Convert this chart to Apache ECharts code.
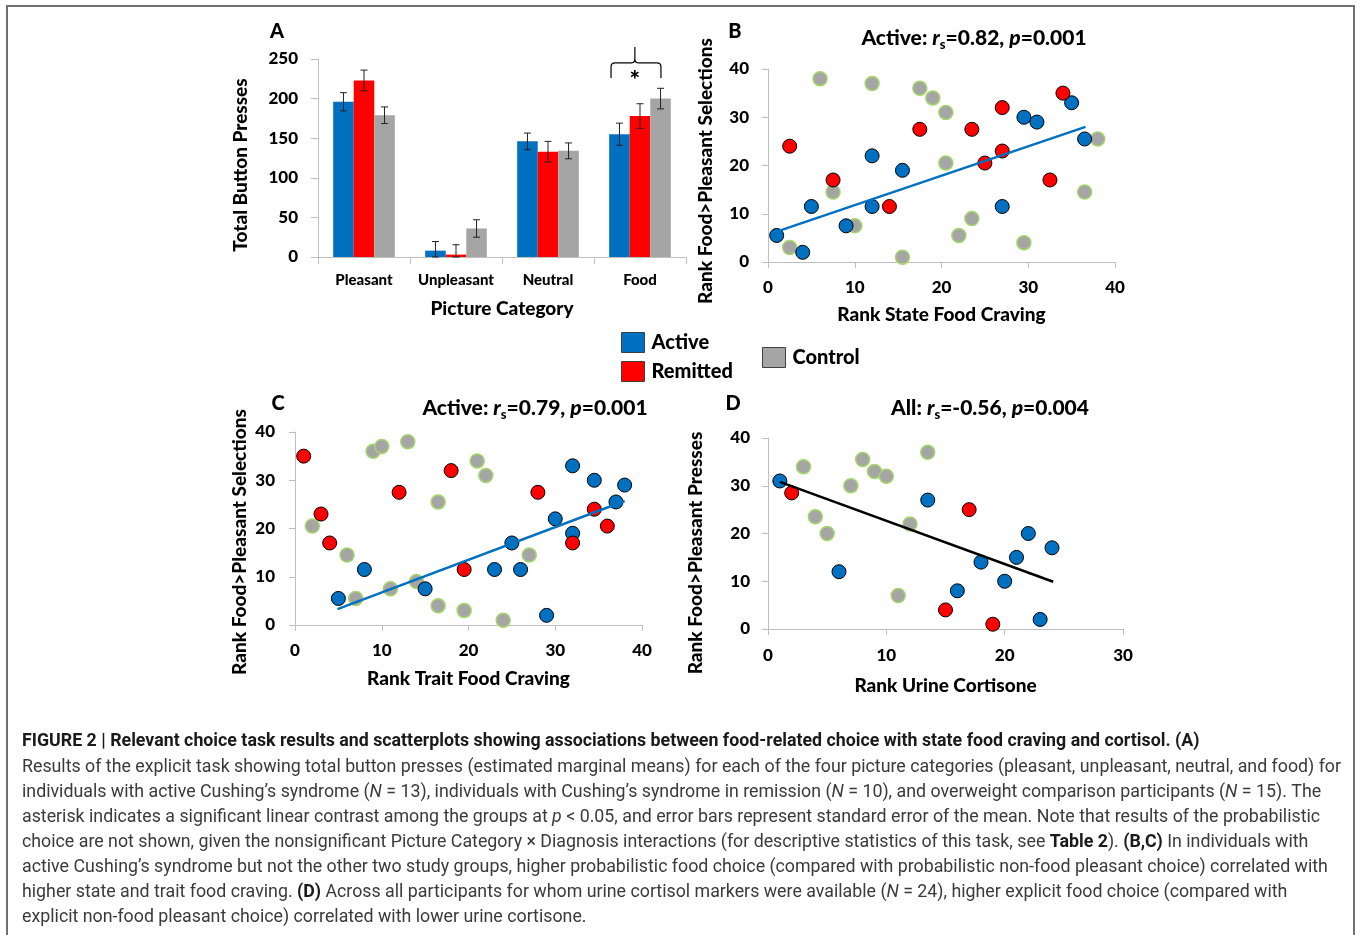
<!DOCTYPE html>
<html>
<head>
<meta charset="utf-8">
<script src="https://cdn.jsdelivr.net/npm/echarts@6/dist/echarts.min.js"></script>
<style>
html, body { margin: 0; padding: 0; background: #fff; }
#main { width: 1357px; height: 935px; }
</style>
</head>
<body>
<div id="main"></div>
<script>
// panel A: total button presses (means and SE)
var categories = ['Pleasant', 'Unpleasant', 'Neutral', 'Food'];
var activeMeans = [196, 8, 146, 155];
var remittedMeans = [223, 3, 133, 178];
var controlMeans = [179, 36, 134, 200];
var activeSE = [11.5, 11.5, 10.5, 14];
var remittedSE = [13, 12.5, 13, 15.5];
var controlSE = [10.5, 11, 10, 13];
// bracket over Food: category, bottom, top, peak, asterisk
var foodBracket = [3, 226, 245, 265, 222];

// panel B: rank state food craving vs rank food>pleasant selections
var stateActive = [[1, 5.5], [4, 2], [5, 11.5], [9, 7.5], [12, 22], [12, 11.5], [15.5, 19], [27, 11.5], [29.5, 30], [31, 29], [35, 33], [36.5, 25.5]];
var stateRemitted = [[2.5, 24], [7.5, 17], [14, 11.5], [17.5, 27.5], [23.5, 27.5], [27, 32], [27, 23], [25, 20.5], [32.5, 17], [34, 35]];
var stateControl = [[6, 38], [12, 37], [17.5, 36], [19, 34], [20.5, 31], [7.5, 14.5], [10, 7.5], [2.5, 3], [15.5, 1], [20.5, 20.5], [22, 5.5], [23.5, 9], [29.5, 4], [36.5, 14.5], [38, 25.5]];
var stateTrend = [[1, 6.3], [36.6, 28]];

// panel C: rank trait food craving
var traitActive = [[5, 5.5], [8, 11.5], [15, 7.5], [23, 11.5], [25, 17], [26, 11.5], [29, 2], [30, 22], [32, 19], [32, 33], [34.5, 30], [37, 25.5], [38, 29]];
var traitRemitted = [[1, 35], [3, 23], [4, 17], [12, 27.5], [18, 32], [19.5, 11.5], [28, 27.5], [32, 17], [34.5, 24], [36, 20.5]];
var traitControl = [[2, 20.5], [6, 14.5], [7, 5.5], [9, 36], [10, 37], [13, 38], [11, 7.5], [14, 9], [16.5, 25.5], [16.5, 4], [19.5, 3], [21, 34], [22, 31], [24, 1], [27, 14.5]];
var traitTrend = [[4.9, 3.3], [38, 25.7]];

// panel D: rank urine cortisone vs rank food>pleasant presses
var cortActive = [[1, 31], [6, 12], [13.5, 27], [16, 8], [18, 14], [20, 10], [21, 15], [22, 20], [23, 2], [24, 17]];
var cortRemitted = [[2, 28.5], [15, 4], [17, 25], [19, 1]];
var cortControl = [[3, 34], [4, 23.5], [5, 20], [7, 30], [8, 35.5], [9, 33], [10, 32], [11, 7], [12, 22], [13.5, 37]];
var cortTrend = [[1, 30.8], [24.1, 9.9]];

var BLUE = '#0070C0', RED = '#FF0000', GRAY = '#A5A5A5';
var FONT = 'Lato';
var WEIGHT = 900;
var GAP = 0.33;

var myChart = echarts.init(document.getElementById('main'));

function bold(size) {
    return { fontFamily: FONT, fontWeight: WEIGHT, fontSize: size, color: '#000' };
}

function valueAxis(grid, max, name, nameGap, labelMargin, pad) {
    return {
        type: 'value', gridIndex: grid, min: 0, max: max, interval: 10,
        name: name, nameLocation: 'middle', nameGap: nameGap,
        nameTextStyle: Object.assign(bold(19), { padding: pad || 0 }),
        axisLine: { show: true, lineStyle: { color: '#bfbfbf', width: 1 } },
        axisTick: { show: true, length: 6, lineStyle: { color: '#bfbfbf' } },
        axisLabel: Object.assign(bold(17), { margin: labelMargin }),
        splitLine: { show: false }
    };
}

function errorBars() {
    var out = [];
    [[activeMeans, activeSE], [remittedMeans, remittedSE], [controlMeans, controlSE]].forEach(function (g, gi) {
        for (var i = 0; i < categories.length; i++) {
            out.push([i, g[0][i], g[1][i], gi]);
        }
    });
    return out;
}

function renderErrorBar(params, api) {
    var cat = api.value(0), mean = api.value(1), se = api.value(2), g = api.value(3);
    var barW = api.size([1, 0])[0] * (1 - GAP) / 3;
    var x = api.coord([cat, mean])[0] + (g - 1) * barW;
    var top = api.coord([cat, mean + se])[1];
    var bot = api.coord([cat, Math.max(0, mean - se)])[1];
    var cap = 3.5;
    var st = { stroke: '#222', lineWidth: 1 };
    return {
        type: 'group',
        children: [
            { type: 'line', shape: { x1: x, y1: top, x2: x, y2: bot }, style: st },
            { type: 'line', shape: { x1: x - cap, y1: top, x2: x + cap, y2: top }, style: st },
            { type: 'line', shape: { x1: x - cap, y1: bot, x2: x + cap, y2: bot }, style: st }
        ]
    };
}

function renderBracket(params, api) {
    var cat = api.value(0);
    var barW = api.size([1, 0])[0] * (1 - GAP) / 3;
    var cx = api.coord([cat, 0])[0];
    var yb = api.coord([cat, api.value(1)])[1];
    var yt = api.coord([cat, api.value(2)])[1];
    var yp = api.coord([cat, api.value(3)])[1];
    var ya = api.coord([cat, api.value(4)])[1];
    var L = cx - 1.41 * barW, R = cx + 1.02 * barW, P = cx - 0.25 * barW;
    var r = 4;
    var d = 'M' + L + ',' + yb + ' L' + L + ',' + (yt + r) + ' Q' + L + ',' + yt + ' ' + (L + r) + ',' + yt +
        ' L' + (P - r) + ',' + yt + ' Q' + P + ',' + yt + ' ' + P + ',' + (yt - r) + ' L' + P + ',' + yp +
        ' M' + P + ',' + (yt - r) + ' Q' + P + ',' + yt + ' ' + (P + r) + ',' + yt +
        ' L' + (R - r) + ',' + yt + ' Q' + R + ',' + yt + ' ' + R + ',' + (yt + r) + ' L' + R + ',' + yb;
    return {
        type: 'group',
        children: [
            { type: 'path', shape: { pathData: d }, style: { stroke: '#000', lineWidth: 1.2, fill: null } },
            { type: 'text', x: P, y: ya, style: { text: '*', font: WEIGHT + ' 25px ' + FONT, fill: '#000', align: 'center', verticalAlign: 'middle' } }
        ]
    };
}

function dots(name, grid, data, color) {
    var ctrl = color === GRAY;
    return {
        name: name, type: 'scatter', xAxisIndex: grid, yAxisIndex: grid,
        data: data, symbolSize: 14,
        itemStyle: { color: color, borderColor: ctrl ? '#a6d46c' : '#000', borderWidth: ctrl ? 1.5 : 1, opacity: 1 },
        z: 3
    };
}

function trend(grid, data, color) {
    return {
        type: 'line', xAxisIndex: grid, yAxisIndex: grid, data: data,
        showSymbol: false, silent: true, z: 5,
        lineStyle: { color: color, width: 2.5 }
    };
}

var statRich = {
    b: { fontFamily: FONT, fontWeight: WEIGHT, fontSize: 21, color: '#000', lineHeight: 27 },
    i: { fontFamily: FONT, fontWeight: WEIGHT, fontStyle: 'italic', fontSize: 21, color: '#000', lineHeight: 27 },
    s: { fontFamily: FONT, fontWeight: WEIGHT, fontSize: 13, color: '#000', lineHeight: 13, verticalAlign: 'bottom' }
};

function panelTitle(text, x, y) {
    return { text: text, left: x, top: y, textAlign: 'center', textVerticalAlign: 'middle', textStyle: bold(20), padding: 0 };
}
function statTitle(text, x, y) {
    return { text: text, left: x, top: y, textAlign: 'center', textVerticalAlign: 'middle', padding: 0,
        textStyle: { rich: statRich } };
}

var captionLines = [
    '{h|FIGURE 2 | Relevant choice task results and scatterplots showing associations between food-related choice with state food craving and cortisol. (A)}',
    'Results of the explicit task showing total button presses (estimated marginal means) for each of the four picture categories (pleasant, unpleasant, neutral, and food) for',
    'individuals with active Cushing\u2019s syndrome ({i|N} = 13), individuals with Cushing\u2019s syndrome in remission ({i|N} = 10), and overweight comparison participants ({i|N} = 15). The',
    'asterisk indicates a significant linear contrast among the groups at {i|p} < 0.05, and error bars represent standard error of the mean. Note that results of the probabilistic',
    'choice are not shown, given the nonsignificant Picture Category \u00d7 Diagnosis interactions (for descriptive statistics of this task, see {b|Table 2}). {b|(B,C)} In individuals with',
    'active Cushing\u2019s syndrome but not the other two study groups, higher probabilistic food choice (compared with probabilistic non-food pleasant choice) correlated with',
    'higher state and trait food craving. {b|(D)} Across all participants for whom urine cortisol markers were available ({i|N} = 24), higher explicit food choice (compared with',
    'explicit non-food pleasant choice) correlated with lower urine cortisone.'
];
var captionFont = 'Roboto';
var captionSize = 17.8;

var graphics = [{
    type: 'rect', shape: { x: 7, y: 6, width: 1347, height: 945 },
    style: { fill: null, stroke: '#707070', lineWidth: 2 }, silent: true
}];
captionLines.forEach(function (t, i) {
    graphics.push({
        type: 'text', left: 22, top: 733 + i * 25.1,
        style: {
            text: t, fill: '#3a3a3a',
            font: captionSize + 'px ' + captionFont,
            rich: {
                h: { fontFamily: captionFont, fontWeight: 'bold', fontSize: captionSize, fill: '#1a1a1a' },
                b: { fontFamily: captionFont, fontWeight: 'bold', fontSize: captionSize, fill: '#1a1a1a' },
                i: { fontFamily: captionFont, fontStyle: 'italic', fontSize: captionSize, fill: '#3a3a3a' }
            }
        }
    });
});

var legendBase = {
    icon: 'rect', itemWidth: 23, itemHeight: 20, selectedMode: false,
    itemStyle: { borderColor: '#404040', borderWidth: 1 },
    textStyle: Object.assign(bold(20), { padding: [0, 0, 0, 2] })
};

option = {
    backgroundColor: '#fff',
    animation: false,
    title: [
        panelTitle('A', 277, 32),
        panelTitle('B', 735, 32),
        panelTitle('C', 278, 404),
        panelTitle('D', 733, 404),
        statTitle('{b|Active: }{i|r}{s|s}{b|=0.82, }{i|p}{b|=0.001}', 974, 38),
        statTitle('{b|Active: }{i|r}{s|s}{b|=0.79, }{i|p}{b|=0.001}', 535, 408),
        statTitle('{b|All: }{i|r}{s|s}{b|=-0.56, }{i|p}{b|=0.004}', 990, 408)
    ],
    legend: [
        Object.assign({ data: ['Active', 'Remitted'], orient: 'vertical', left: 616, top: 327, itemGap: 8 }, legendBase),
        Object.assign({ data: ['Control'], left: 757, top: 342 }, legendBase)
    ],
    grid: [
        { left: 318, top: 59, width: 368, height: 198 },
        { left: 768, top: 69, width: 347, height: 193 },
        { left: 295, top: 432, width: 347, height: 193 },
        { left: 768, top: 438, width: 355, height: 191 }
    ],
    xAxis: [
        {
            type: 'category', gridIndex: 0, data: categories,
            name: 'Picture Category', nameLocation: 'middle', nameGap: 42, nameTextStyle: bold(19),
            axisLine: { lineStyle: { color: '#bfbfbf' } },
            axisTick: { show: true, length: 7, alignWithLabel: false, lineStyle: { color: '#bfbfbf' } },
            axisLabel: Object.assign(bold(15), { margin: 16, interval: 0 })
        },
        valueAxis(1, 40, 'Rank State Food Craving', 43, 17),
        valueAxis(2, 40, 'Rank Trait Food Craving', 44, 17),
        valueAxis(3, 30, 'Rank Urine Cortisone', 47, 18)
    ],
    yAxis: [
        {
            type: 'value', gridIndex: 0, min: 0, max: 250, interval: 50,
            name: 'Total Button Presses', nameLocation: 'middle', nameGap: 68,
            nameTextStyle: Object.assign(bold(19), { padding: [0, 14, 0, 0] }),
            axisLine: { show: true, lineStyle: { color: '#bfbfbf' } },
            axisTick: { show: true, length: 7, lineStyle: { color: '#bfbfbf' } },
            axisLabel: Object.assign(bold(17), { margin: 20 }),
            splitLine: { show: false }
        },
        valueAxis(1, 40, 'Rank Food>Pleasant Selections', 53, 19, [0, 11, 0, 0]),
        valueAxis(2, 40, 'Rank Food>Pleasant Selections', 46, 20, [0, 27, 0, 0]),
        valueAxis(3, 40, 'Rank Food>Pleasant Presses', 63, 18, [0, 39, 0, 0])
    ],
    series: [
        { name: 'Active', type: 'bar', xAxisIndex: 0, yAxisIndex: 0, data: activeMeans, itemStyle: { color: BLUE }, barGap: '0%', barCategoryGap: '33%' },
        { name: 'Remitted', type: 'bar', xAxisIndex: 0, yAxisIndex: 0, data: remittedMeans, itemStyle: { color: RED }, barGap: '0%', barCategoryGap: '33%' },
        { name: 'Control', type: 'bar', xAxisIndex: 0, yAxisIndex: 0, data: controlMeans, itemStyle: { color: GRAY }, barGap: '0%', barCategoryGap: '33%' },
        { type: 'custom', xAxisIndex: 0, yAxisIndex: 0, data: errorBars(), renderItem: renderErrorBar, z: 4, silent: true },
        { type: 'custom', xAxisIndex: 0, yAxisIndex: 0, data: [foodBracket], renderItem: renderBracket, z: 4, silent: true, clip: false },

        dots('Control', 1, stateControl, GRAY),
        dots('Active', 1, stateActive, BLUE),
        dots('Remitted', 1, stateRemitted, RED),
        trend(1, stateTrend, BLUE),

        dots('Control', 2, traitControl, GRAY),
        dots('Active', 2, traitActive, BLUE),
        dots('Remitted', 2, traitRemitted, RED),
        trend(2, traitTrend, BLUE),

        dots('Control', 3, cortControl, GRAY),
        dots('Active', 3, cortActive, BLUE),
        dots('Remitted', 3, cortRemitted, RED),
        trend(3, cortTrend, '#000')
    ],
    graphic: graphics
};
myChart.setOption(option, true);

window.onresize = function () {
    myChart.resize();
};
</script>
</body>
</html>
